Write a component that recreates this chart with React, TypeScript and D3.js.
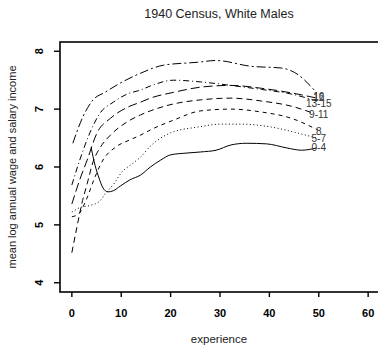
import React from 'react'
import * as d3 from 'd3'

// experience / mean log income, one pair per schooling group
const exp16 = [0.2, 2.2, 4.3, 6.7, 9.8, 13.9, 18.6, 25.5, 29.2, 36.3, 42.4, 45.9, 48.2, 49.6]
const inc16 = [6.41, 6.86, 7.16, 7.29, 7.45, 7.62, 7.76, 7.81, 7.84, 7.74, 7.71, 7.59, 7.41, 7.28]

const exp1315 = [0, 1.6, 3.7, 5.7, 8.4, 11.2, 13.9, 15.9, 20.6, 26.1, 32.2, 38.4, 44.5, 49.6]
const inc1315 = [5.69, 6.12, 6.6, 6.93, 7.12, 7.26, 7.33, 7.4, 7.5, 7.47, 7.41, 7.34, 7.26, 7.14]

const exp12 = [0, 1.6, 3.1, 5.1, 7.8, 11.2, 13.9, 15.9, 20.6, 26.1, 32.2, 38.4, 44.5, 49.6]
const inc12 = [5.36, 5.78, 6.12, 6.59, 6.84, 7.03, 7.12, 7.19, 7.29, 7.38, 7.41, 7.36, 7.28, 7.19]

const exp911 = [0, 1.0, 2.0, 3.1, 4.3, 5.7, 7.8, 11.2, 13.9, 15.9, 20.6, 26.1, 32.2, 38.4, 44.5, 49.2]
const inc911 = [4.52, 4.95, 5.36, 5.71, 6.09, 6.33, 6.55, 6.78, 6.9, 6.97, 7.09, 7.16, 7.19, 7.14, 7.05, 6.92]

const exp8 = [0, 1.4, 2.9, 4.7, 6.3, 8.8, 11.8, 13.9, 15.9, 20.6, 26.1, 32.2, 38.4, 44.5, 49.8]
const inc8 = [5.14, 5.19, 5.43, 5.83, 6.12, 6.34, 6.47, 6.55, 6.64, 6.81, 6.97, 7.0, 6.95, 6.84, 6.64]

const exp57 = [0, 1.4, 3.9, 5.5, 6.9, 8.6, 10, 11.8, 13.9, 15.9, 18, 20, 25.5, 30.2, 34.3, 40.4, 46.5, 49.6]
const inc57 = [5.22, 5.29, 5.34, 5.4, 5.55, 5.72, 5.9, 6.03, 6.17, 6.36, 6.5, 6.59, 6.69, 6.74, 6.74, 6.69, 6.57, 6.5]

const exp04 = [3.9, 4.7, 5.5, 6.3, 7.3, 8.4, 9.8, 11.8, 13.9, 15.9, 18, 20, 23.1, 26.1, 29.2, 32.2, 35.3, 39.4, 43.5, 46.5, 49.6]
const inc04 = [6.34, 6.03, 5.81, 5.64, 5.57, 5.59, 5.67, 5.78, 5.86, 6.0, 6.12, 6.21, 6.24, 6.26, 6.29, 6.38, 6.41, 6.4, 6.33, 6.29, 6.33]

const groups = ['16', '13-15', '12', '9-11', '8', '5-7', '0-4']
const labelY = [7.22, 7.1, 7.2, 6.9, 6.62, 6.5, 6.33]
const dashes = ['9,3,2,3', '6,3,1,3', '9,4', '6,4', '4,4', '1,2.5', '']

const xTicks = [0, 10, 20, 30, 40, 50, 60]
const yTicks = [4, 5, 6, 7, 8]

const W = 378
const H = 348
const font = 'Liberation Sans, Arial, Helvetica, sans-serif'

export default function App() {
  const x = d3.scaleLinear().domain([-2.4, 62.4]).range([60, 380])
  const y = d3.scaleLinear().domain([3.84, 8.16]).range([292, 42])

  const expArrs = [exp16, exp1315, exp12, exp911, exp8, exp57, exp04]
  const incArrs = [inc16, inc1315, inc12, inc911, inc8, inc57, inc04]
  const table = groups.map((g, i) => ({
    label: g,
    points: expArrs[i].map((e, j) => [e, incArrs[i][j]] as [number, number]),
  }))

  const line = d3.line<[number, number]>()
    .x(d => x(d[0]))
    .y(d => y(d[1]))
    .curve(d3.curveMonotoneX)

  const [x0, x1] = x.range()
  const [y0, y1] = y.range()

  return (
    <svg width={W} height={H} style={{ position: 'absolute', left: 0, top: 0, background: '#fff' }}
      fontFamily={font}>
      <text x={219} y={18} textAnchor="middle" fontSize={12.5} fill="#222">1940 Census, White Males</text>

      {/* box */}
      <rect x={x0} y={y1} width={x1 - x0} height={y0 - y1} fill="none" stroke="#000" strokeWidth={1.6} />

      {/* y axis */}
      {yTicks.map(t => (
        <g key={'y' + t}>
          <line x1={x0 - 6} x2={x0} y1={y(t)} y2={y(t)} stroke="#000" strokeWidth={1.4} />
          <text transform={`translate(43,${y(t)}) rotate(-90)`} textAnchor="middle"
            fontSize={11} fontWeight="bold">{t}</text>
        </g>
      ))}
      <text transform={`translate(16,${(y0 + y1) / 2}) rotate(-90)`} textAnchor="middle"
        fontSize={11} fill="#222">mean log annual wage and salary income</text>

      {/* x axis */}
      {xTicks.map(t => (
        <g key={'x' + t}>
          <line x1={x(t)} x2={x(t)} y1={y0} y2={y0 + 5} stroke="#000" strokeWidth={1.4} />
          <text x={x(t)} y={317} textAnchor="middle" fontSize={11} fontWeight="bold">{t}</text>
        </g>
      ))}
      <text x={219} y={343} textAnchor="middle" fontSize={11.5} fill="#222">experience</text>

      {/* curves */}
      {table.map((s, i) => (
        <path key={s.label} d={line(s.points) || ''} fill="none" stroke="#000"
          strokeWidth={1} strokeDasharray={dashes[i] || undefined} />
      ))}
      {table.map((s, i) => (
        <text key={'l' + s.label} x={x(50)} y={y(labelY[i])} dy="0.35em" textAnchor="middle"
          fontSize={10} fill="#333">{s.label}</text>
      ))}
    </svg>
  )
}
